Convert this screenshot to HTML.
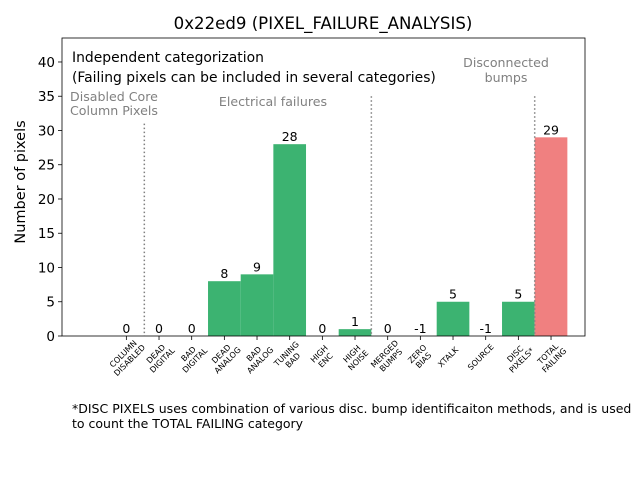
<!DOCTYPE html>
<html><head><meta charset="utf-8"><style>
body{margin:0;background:#fff}
svg{display:block;font-family:"DejaVu Sans","Liberation Sans",sans-serif}
</style></head><body>
<svg id="chart" width="640" height="480">
<rect width="640" height="480" fill="#fff"/>
<text x="323" y="29" font-size="16.6" text-anchor="middle">0x22ed9 (PIXEL_FAILURE_ANALYSIS)</text>
<g id="plot"></g>
<text x="72" y="62" font-size="13.9">Independent categorization</text>
<text x="72" y="82" font-size="13.9">(Failing pixels can be included in several categories)</text>
<text x="70" y="101" font-size="12.6" fill="#808080">Disabled Core</text>
<text x="70" y="115" font-size="12.6" fill="#808080">Column Pixels</text>
<text x="273" y="106" font-size="12.6" fill="#808080" text-anchor="middle">Electrical failures</text>
<text x="506" y="67" font-size="12.6" fill="#808080" text-anchor="middle">Disconnected</text>
<text x="506" y="82" font-size="12.6" fill="#808080" text-anchor="middle">bumps</text>
<text x="72" y="413" font-size="12.5">*DISC PIXELS uses combination of various disc. bump identificaiton methods, and is used</text>
<text x="72" y="428" font-size="12.5">to count the TOTAL FAILING category</text>
<text transform="translate(25,182) rotate(-90)" font-size="14.5" text-anchor="middle">Number of pixels</text>
</svg>
<script>
const categories=[["COLUMN","DISABLED"],["DEAD","DIGITAL"],["BAD","DIGITAL"],["DEAD","ANALOG"],["BAD","ANALOG"],["TUNING","BAD"],["HIGH","ENC"],["HIGH","NOISE"],["MERGED","BUMPS"],["ZERO","BIAS"],["XTALK"],["SOURCE"],["DISC","PIXELS*"],["TOTAL","FAILING"]];
const values=[0,0,0,8,9,28,0,1,0,-1,5,-1,5,29];
const yTicks=[0,5,10,15,20,25,30,35,40];
const dividers=[[0.55,31],[7.5,35],[12.5,35]];
const NS="http://www.w3.org/2000/svg";
const X0=62,X1=585,Y0=336,Y1=38,xmin=-1.97,xmax=14.04,ymax=43.5;
const xs=v=>X0+(v-xmin)/(xmax-xmin)*(X1-X0);
const ys=v=>Y0-v/ymax*(Y0-Y1);
const g=document.getElementById('plot');
function mk(t,a){const e=document.createElementNS(NS,t);for(const k in a)e.setAttribute(k,a[k]);g.appendChild(e);return e;}
values.forEach((v,i)=>{
  if(v>0){
    const r=mk('rect',{x:xs(i-0.5),y:ys(v),width:xs(i+0.5)-xs(i-0.5),height:ys(0)-ys(v),fill:i===13?'#f08080':'#3cb371'});
    
    
  }
  const t=mk('text',{x:xs(i),y:ys(Math.max(v,0))-3,'font-size':12.5,'text-anchor':'middle'});
  t.textContent=v;
  
  
  const tk=mk('line',{x1:xs(i),x2:xs(i),y1:Y0,y2:Y0+4,stroke:'#000','stroke-width':0.8});
  
  
  const lab=categories[i];
  const n=lab.length;
  const ccx=xs(i)+(n===1?-5:0), ccy=Y0+21;
  lab.forEach((s,j)=>{
    const off=(j-(n-1)/2)*9;
    const cx=ccx+off*0.707, cy=ccy+off*0.707+2.8;
    const tt=mk('text',{x:cx,y:cy,'font-size':8,'text-anchor':'middle',transform:`rotate(-45 ${cx} ${cy-2.8})`});
    tt.textContent=s;
    
    
  });
});
dividers.forEach(d=>{
  const l=mk('line',{x1:xs(d[0]),x2:xs(d[0]),y1:ys(d[1]),y2:Y0,stroke:'#808080','stroke-width':1.5,'stroke-dasharray':'1.5,2.5'});
  
  
});
yTicks.forEach(v=>{
  const l=mk('line',{x1:X0-4,x2:X0,y1:ys(v),y2:ys(v),stroke:'#000','stroke-width':0.8});
  
  
  const t=mk('text',{x:X0-7,y:ys(v)+5,'font-size':13.5,'text-anchor':'end'});
  t.textContent=v;
  
  
});
const fr=mk('rect',{x:X0,y:Y1,width:X1-X0,height:Y0-Y1,fill:'none',stroke:'#000','stroke-width':0.8});


</script>
</body></html>
